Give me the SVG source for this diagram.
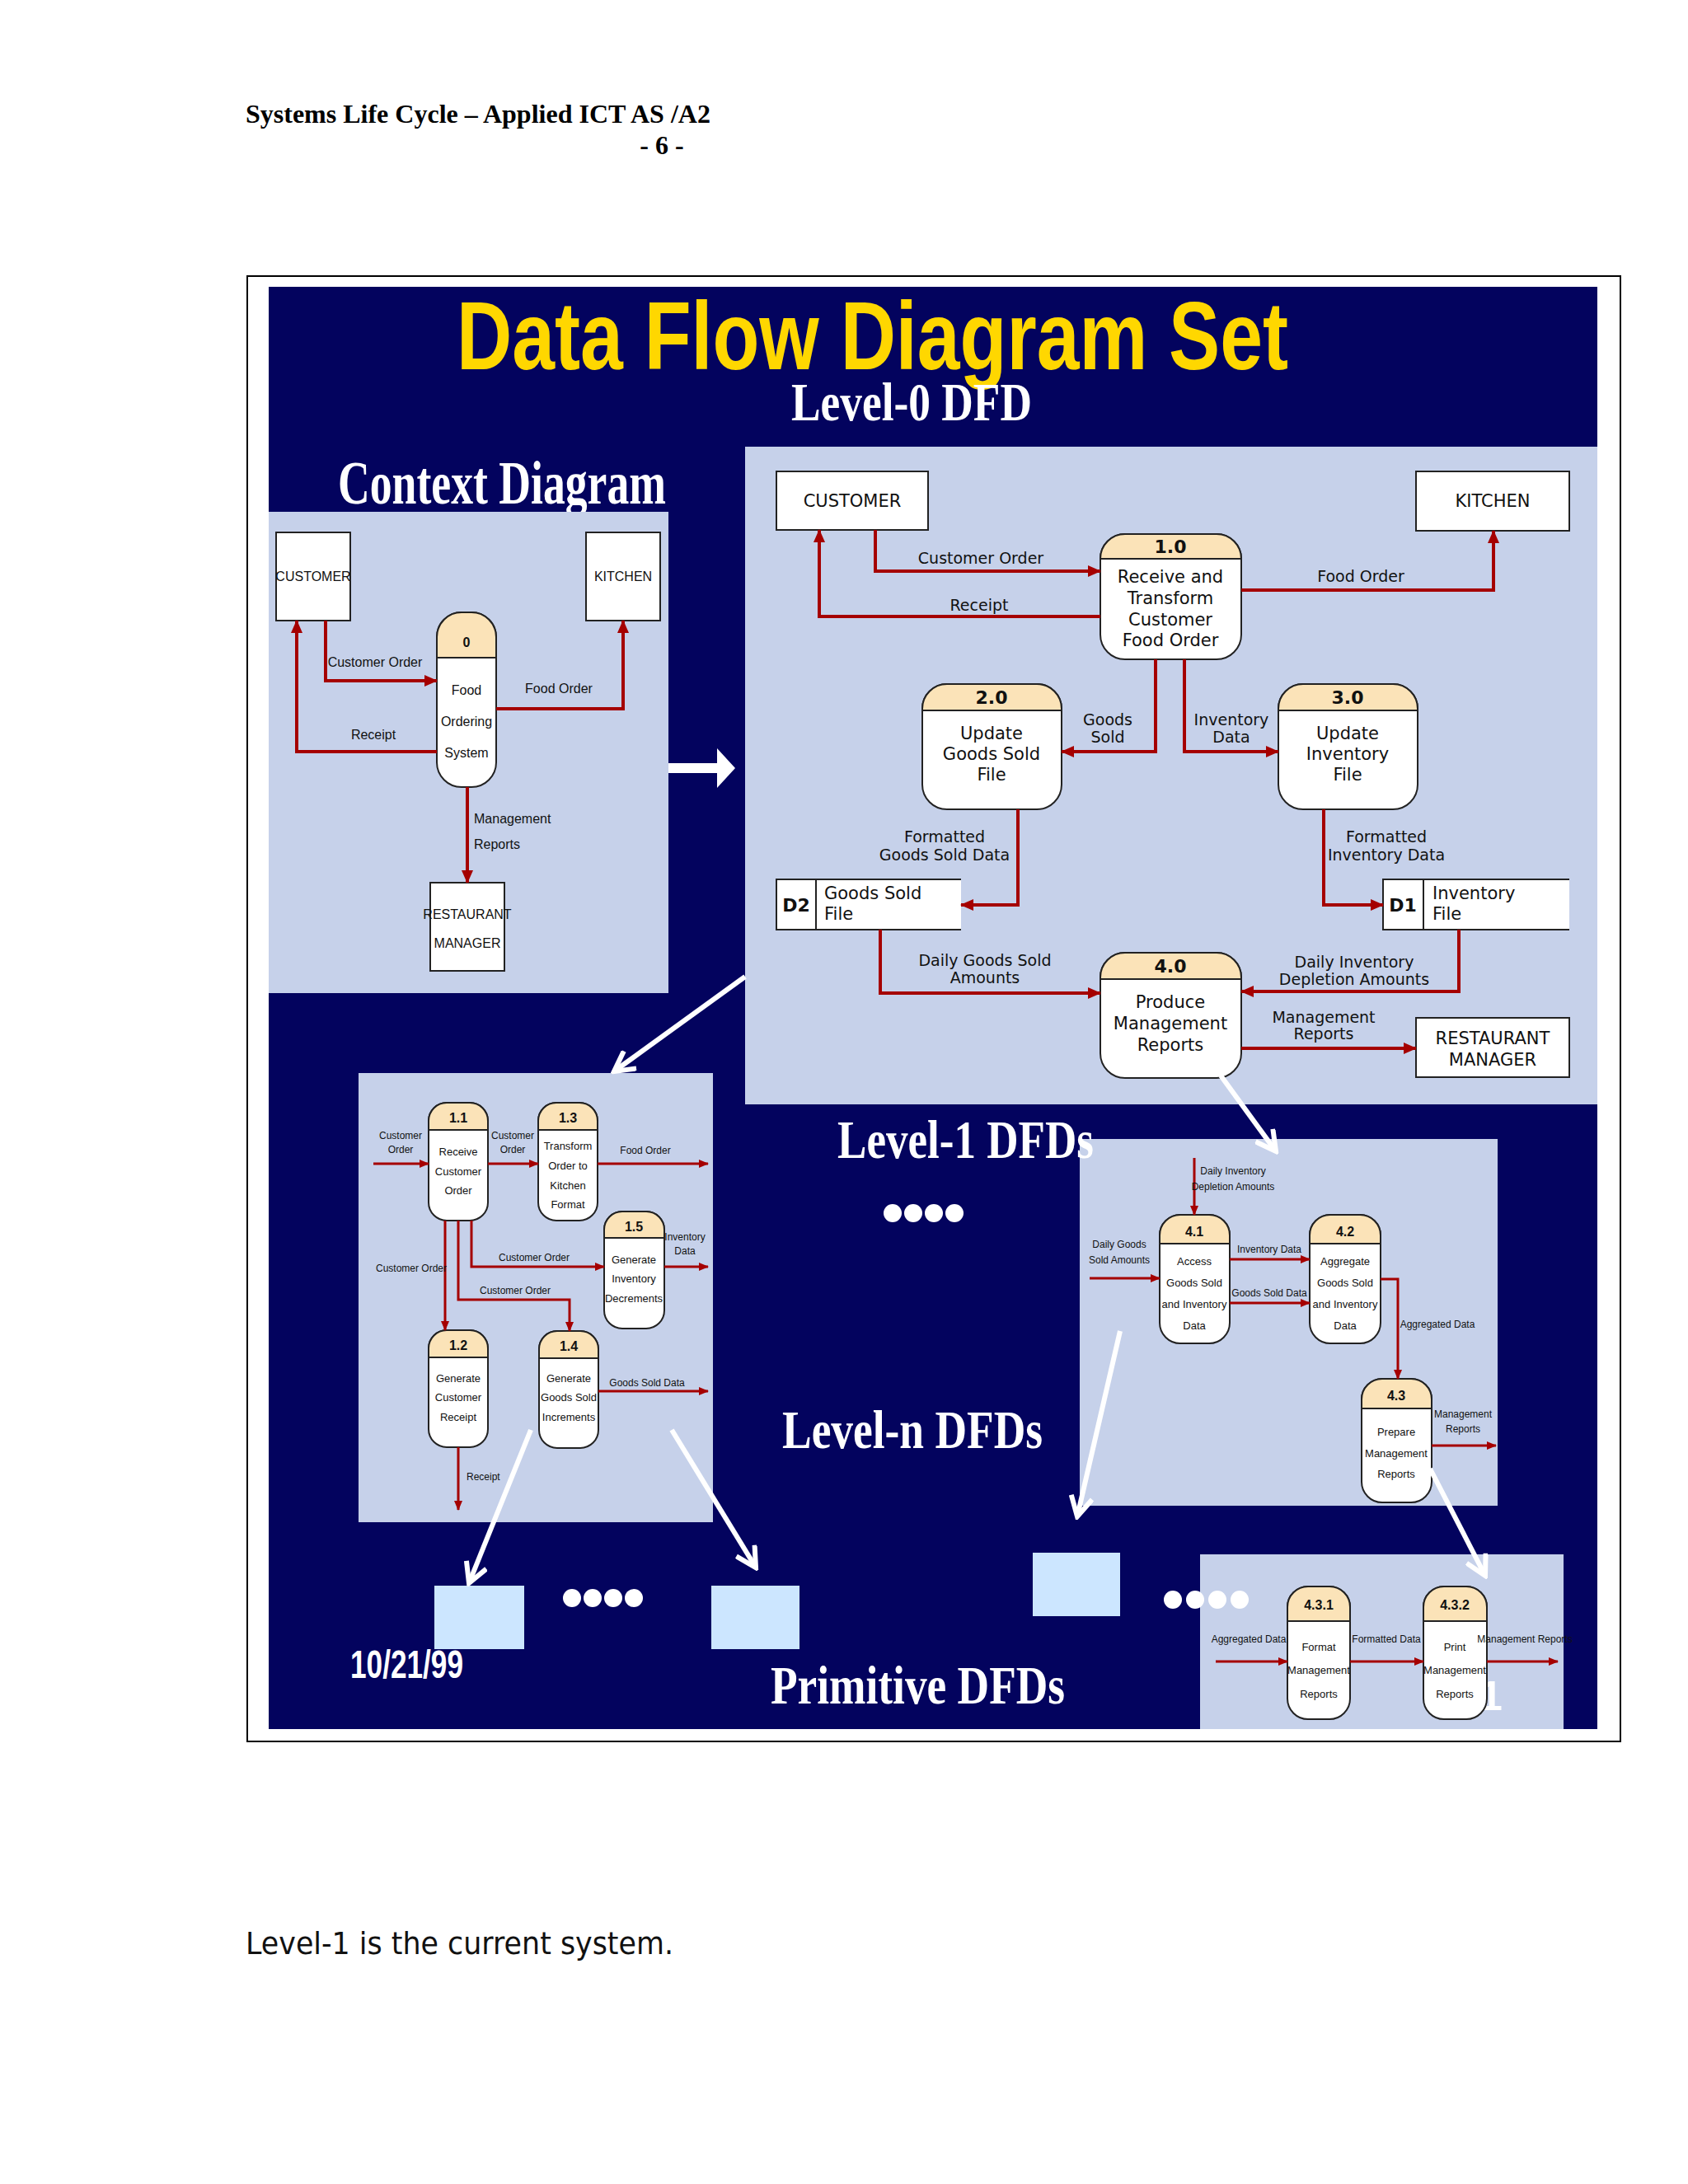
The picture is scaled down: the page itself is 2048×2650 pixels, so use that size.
<svg xmlns="http://www.w3.org/2000/svg" width="2048" height="2650" viewBox="0 0 2048 2650">
<defs>
<marker id="ar" markerWidth="16" markerHeight="14" refX="15" refY="7" orient="auto" markerUnits="userSpaceOnUse"><path d="M0,0 L16,7 L0,14 Z" fill="#a50000"/></marker>
<marker id="as" markerWidth="12" markerHeight="10" refX="11" refY="5" orient="auto" markerUnits="userSpaceOnUse"><path d="M0,0 L12,5 L0,10 Z" fill="#a50000"/></marker>
<marker id="aw" markerWidth="30" markerHeight="30" refX="26" refY="15" orient="auto" markerUnits="userSpaceOnUse"><path d="M2,2 L26,15 L2,28" fill="none" stroke="#fff" stroke-width="6"/></marker>
</defs>
<style>
.hd{font-family:"Liberation Serif",serif;font-weight:bold;fill:#000}
.lv{font-family:"Liberation Serif",serif;font-weight:bold;fill:#fff}
.panel{fill:#c6d1ea}
.pb{fill:#fff;stroke:#222;stroke-width:2}
.ph{fill:#fbe3b8;stroke:#222;stroke-width:2}
.ent{fill:#fff;stroke:#222;stroke-width:2}
.f{fill:none;stroke:#a50000;stroke-width:4;marker-end:url(#ar)}
.fs{fill:none;stroke:#a50000;stroke-width:3;marker-end:url(#as)}
.t0{font-family:"DejaVu Sans",sans-serif;font-size:21px;fill:#111;text-anchor:middle}
.l0{font-family:"DejaVu Sans",sans-serif;font-size:19px;fill:#111;text-anchor:middle}
.t0b{font-family:"DejaVu Sans",sans-serif;font-size:22px;font-weight:bold;fill:#111;text-anchor:middle}
.tn{font-family:"Liberation Sans",sans-serif;font-size:13px;fill:#111;text-anchor:middle}
.ln{font-family:"Liberation Sans",sans-serif;font-size:12px;fill:#111;text-anchor:middle}
.tnb{font-family:"Liberation Sans",sans-serif;font-size:16px;font-weight:bold;fill:#111;text-anchor:middle}
.tc{font-family:"Liberation Sans",sans-serif;font-size:16px;fill:#111;text-anchor:middle}
.st{text-anchor:start}
.wl{stroke:#fff;stroke-width:6;fill:none;marker-end:url(#aw)}
</style>
<rect width="2048" height="2650" fill="#fff"/>
<text class="hd" x="298" y="149" font-size="32">Systems Life Cycle – Applied ICT AS /A2</text>
<text class="hd" x="803" y="187" font-size="32" text-anchor="middle">- 6 -</text>
<rect x="300" y="335" width="1666" height="1778" fill="none" stroke="#000" stroke-width="2"/>
<rect x="326" y="348" width="1612" height="1750" fill="#03035e"/>
<text x="554" y="448" font-family="Liberation Sans,sans-serif" font-weight="bold" font-size="116" fill="#ffd700" textLength="1009" lengthAdjust="spacingAndGlyphs">Data Flow Diagram Set</text>
<text class="lv" x="960" y="510" font-size="66" textLength="292" lengthAdjust="spacingAndGlyphs">Level-0 DFD</text>
<text class="lv" x="410" y="611" font-size="74" textLength="398" lengthAdjust="spacingAndGlyphs">Context Diagram</text>

<rect class="panel" x="904" y="542" width="1034" height="798"/>
<rect class="panel" x="326" y="621" width="485" height="584"/>
<rect class="panel" x="435" y="1302" width="430" height="545"/>
<rect class="panel" x="1310" y="1382" width="507" height="445"/>
<rect class="panel" x="1456" y="1886" width="441" height="212"/>
<rect x="527" y="1924" width="109" height="77" fill="#cce6ff"/>
<rect x="863" y="1924" width="107" height="77" fill="#cce6ff"/>
<rect x="1253" y="1884" width="106" height="77" fill="#cce6ff"/>

<text class="lv" x="1016" y="1405" font-size="66" textLength="311" lengthAdjust="spacingAndGlyphs">Level-1 DFDs</text>
<text class="lv" x="949" y="1757" font-size="66" textLength="316" lengthAdjust="spacingAndGlyphs">Level-n DFDs</text>
<text class="lv" x="935" y="2067" font-size="66" textLength="357" lengthAdjust="spacingAndGlyphs">Primitive DFDs</text>
<text x="425" y="2036" font-family="Liberation Sans,sans-serif" font-weight="bold" font-size="48" fill="#fff" textLength="137" lengthAdjust="spacingAndGlyphs">10/21/99</text>
<text x="1795" y="2075" font-family="Liberation Sans,sans-serif" font-weight="bold" font-size="50" fill="#fff">1</text>
<g fill="#fff">
<circle cx="1083" cy="1472" r="11"/><circle cx="1108" cy="1472" r="11"/><circle cx="1133" cy="1472" r="11"/><circle cx="1158" cy="1472" r="11"/>
<circle cx="694" cy="1939" r="11"/><circle cx="719" cy="1939" r="11"/><circle cx="744" cy="1939" r="11"/><circle cx="769" cy="1939" r="11"/>
<circle cx="1423" cy="1941" r="11"/><circle cx="1450" cy="1941" r="11"/><circle cx="1477" cy="1941" r="11"/><circle cx="1504" cy="1941" r="11"/>
</g>

<!-- Context diagram -->
<g id="ctx-customer"><rect class="ent" x="335" y="646" width="90" height="107"/><text class="tc" x="380" y="705" font-size="15">CUSTOMER</text></g>
<g id="ctx-kitchen"><rect class="ent" x="711" y="646" width="90" height="107"/><text class="tc" x="756" y="705" font-size="15">KITCHEN</text></g>
<g id="ctx-manager"><rect class="ent" x="522" y="1071" width="90" height="107"/><text class="tc" x="567" y="1115" font-size="14">RESTAURANT</text><text class="tc" x="567" y="1150" font-size="15">MANAGER</text></g>
<g id="ctx-p0"><rect class="pb" x="530" y="743" width="72" height="212" rx="30"/><path class="ph" d="M530,798 V773 A30,30 0 0 1 560,743 H572 A30,30 0 0 1 602,773 V798 Z"/>
<text class="tnb" x="566" y="785" font-size="22">0</text><text class="tc" x="566" y="843">Food</text><text class="tc" x="566" y="881">Ordering</text><text class="tc" x="566" y="919">System</text></g>

<!-- Level-0 -->
<g id="l0-customer"><rect class="ent" x="942" y="572" width="184" height="71"/><text class="t0" x="1034" y="615">CUSTOMER</text></g>
<g id="l0-kitchen"><rect class="ent" x="1718" y="572" width="186" height="72"/><text class="t0" x="1811" y="615">KITCHEN</text></g>
<g id="l0-manager"><rect class="ent" x="1718" y="1235" width="186" height="72"/><text class="t0" x="1811" y="1267">RESTAURANT</text><text class="t0" x="1811" y="1293">MANAGER</text></g>
<g id="l0-p1"><rect class="pb" x="1335" y="648" width="171" height="152" rx="30"/><path class="ph" d="M1335,678 A30,30 0 0 1 1365,648 H1476 A30,30 0 0 1 1506,678 Z"/>
<text class="t0b" x="1420" y="671">1.0</text><text class="t0" x="1420" y="707">Receive and</text><text class="t0" x="1420" y="733">Transform</text><text class="t0" x="1420" y="759">Customer</text><text class="t0" x="1420" y="784">Food Order</text></g>
<g id="l0-p2"><rect class="pb" x="1119" y="830" width="169" height="152" rx="30"/><path class="ph" d="M1119,862 V860 A30,30 0 0 1 1149,830 H1258 A30,30 0 0 1 1288,860 V862 Z"/>
<text class="t0b" x="1203" y="854">2.0</text><text class="t0" x="1203" y="897">Update</text><text class="t0" x="1203" y="922">Goods Sold</text><text class="t0" x="1203" y="947">File</text></g>
<g id="l0-p3"><rect class="pb" x="1551" y="830" width="169" height="152" rx="30"/><path class="ph" d="M1551,862 V860 A30,30 0 0 1 1581,830 H1690 A30,30 0 0 1 1720,860 V862 Z"/>
<text class="t0b" x="1635" y="854">3.0</text><text class="t0" x="1635" y="897">Update</text><text class="t0" x="1635" y="922">Inventory</text><text class="t0" x="1635" y="947">File</text></g>
<g id="l0-p4"><rect class="pb" x="1335" y="1156" width="171" height="152" rx="30"/><path class="ph" d="M1335,1188 V1186 A30,30 0 0 1 1365,1156 H1476 A30,30 0 0 1 1506,1186 V1188 Z"/>
<text class="t0b" x="1420" y="1180">4.0</text><text class="t0" x="1420" y="1223">Produce</text><text class="t0" x="1420" y="1249">Management</text><text class="t0" x="1420" y="1275">Reports</text></g>
<g id="l0-d2"><path d="M1166,1067 H942 V1128 H1166 M990,1067 V1128" fill="#fff" stroke="#222" stroke-width="2"/><text class="t0b" x="966" y="1106">D2</text><text class="t0 st" x="1000" y="1091">Goods Sold</text><text class="t0 st" x="1000" y="1116">File</text></g>
<g id="l0-d1"><path d="M1904,1067 H1678 V1128 H1904 M1727,1067 V1128" fill="#fff" stroke="#222" stroke-width="2"/><text class="t0b" x="1702" y="1106">D1</text><text class="t0 st" x="1738" y="1091">Inventory</text><text class="t0 st" x="1738" y="1116">File</text></g>

<!-- Level-1 -->
<g id="l1-p11"><rect class="pb" x="520" y="1338" width="72" height="143" rx="22"/><path class="ph" d="M520,1371 V1360 A22,22 0 0 1 542,1338 H570 A22,22 0 0 1 592,1360 V1371 Z"/><text class="tnb" x="556" y="1362">1.1</text><text class="tn" x="556" y="1402">Receive</text><text class="tn" x="556" y="1426">Customer</text><text class="tn" x="556" y="1449">Order</text></g>
<g id="l1-p13"><rect class="pb" x="653" y="1338" width="72" height="143" rx="22"/><path class="ph" d="M653,1371 V1360 A22,22 0 0 1 675,1338 H703 A22,22 0 0 1 725,1360 V1371 Z"/><text class="tnb" x="689" y="1362">1.3</text><text class="tn" x="689" y="1395">Transform</text><text class="tn" x="689" y="1419">Order to</text><text class="tn" x="689" y="1443">Kitchen</text><text class="tn" x="689" y="1466">Format</text></g>
<g id="l1-p15"><rect class="pb" x="733" y="1470" width="73" height="142" rx="22"/><path class="ph" d="M733,1502 V1492 A22,22 0 0 1 755,1470 H784 A22,22 0 0 1 806,1492 V1502 Z"/><text class="tnb" x="769" y="1494">1.5</text><text class="tn" x="769" y="1533">Generate</text><text class="tn" x="769" y="1556">Inventory</text><text class="tn" x="769" y="1580" font-size="12">Decrements</text></g>
<g id="l1-p12"><rect class="pb" x="520" y="1614" width="72" height="142" rx="22"/><path class="ph" d="M520,1647 V1636 A22,22 0 0 1 542,1614 H570 A22,22 0 0 1 592,1636 V1647 Z"/><text class="tnb" x="556" y="1638">1.2</text><text class="tn" x="556" y="1677">Generate</text><text class="tn" x="556" y="1700">Customer</text><text class="tn" x="556" y="1724">Receipt</text></g>
<g id="l1-p14"><rect class="pb" x="654" y="1615" width="72" height="142" rx="22"/><path class="ph" d="M654,1648 V1637 A22,22 0 0 1 676,1615 H704 A22,22 0 0 1 726,1637 V1648 Z"/><text class="tnb" x="690" y="1639">1.4</text><text class="tn" x="690" y="1677">Generate</text><text class="tn" x="690" y="1700" font-size="12">Goods Sold</text><text class="tn" x="690" y="1724" font-size="12">Increments</text></g>

<!-- Level-n -->
<g id="ln-p41"><rect class="pb" x="1407" y="1474" width="85" height="156" rx="25"/><path class="ph" d="M1407,1509 V1499 A25,25 0 0 1 1432,1474 H1467 A25,25 0 0 1 1492,1499 V1509 Z"/><text class="tnb" x="1449" y="1500">4.1</text><text class="tn" x="1449" y="1535">Access</text><text class="tn" x="1449" y="1561">Goods Sold</text><text class="tn" x="1449" y="1587">and Inventory</text><text class="tn" x="1449" y="1613">Data</text></g>
<g id="ln-p42"><rect class="pb" x="1589" y="1474" width="86" height="156" rx="25"/><path class="ph" d="M1589,1509 V1499 A25,25 0 0 1 1614,1474 H1650 A25,25 0 0 1 1675,1499 V1509 Z"/><text class="tnb" x="1632" y="1500">4.2</text><text class="tn" x="1632" y="1535">Aggregate</text><text class="tn" x="1632" y="1561">Goods Sold</text><text class="tn" x="1632" y="1587">and Inventory</text><text class="tn" x="1632" y="1613">Data</text></g>
<g id="ln-p43"><rect class="pb" x="1652" y="1673" width="85" height="150" rx="25"/><path class="ph" d="M1652,1709 V1698 A25,25 0 0 1 1677,1673 H1712 A25,25 0 0 1 1737,1698 V1709 Z"/><text class="tnb" x="1694" y="1699">4.3</text><text class="tn" x="1694" y="1742">Prepare</text><text class="tn" x="1694" y="1768">Management</text><text class="tn" x="1694" y="1793">Reports</text></g>

<!-- Primitive -->
<g id="pr-p431"><rect class="pb" x="1562" y="1925" width="76" height="161" rx="25"/><path class="ph" d="M1562,1967 V1950 A25,25 0 0 1 1587,1925 H1613 A25,25 0 0 1 1638,1950 V1967 Z"/><text class="tnb" x="1600" y="1953">4.3.1</text><text class="tn" x="1600" y="2003">Format</text><text class="tn" x="1600" y="2031" font-size="12">Management</text><text class="tn" x="1600" y="2060">Reports</text></g>
<g id="pr-p432"><rect class="pb" x="1727" y="1925" width="77" height="161" rx="25"/><path class="ph" d="M1727,1967 V1950 A25,25 0 0 1 1752,1925 H1779 A25,25 0 0 1 1804,1950 V1967 Z"/><text class="tnb" x="1765" y="1953">4.3.2</text><text class="tn" x="1765" y="2003">Print</text><text class="tn" x="1765" y="2031" font-size="12">Management</text><text class="tn" x="1765" y="2060">Reports</text></g>

<g id="connectors">
<path class="f" d="M395,753 V826 H530"/>
<path class="f" d="M530,912 H360 V753"/>
<path class="f" d="M602,860 H756 V753"/>
<path class="f" d="M567,955 V1071"/>
<path class="f" d="M1062,643 V693 H1335"/>
<path class="f" d="M1335,748 H994 V643"/>
<path class="f" d="M1506,716 H1812 V644"/>
<path class="f" d="M1402,800 V912 H1288"/>
<path class="f" d="M1437,800 V912 H1551"/>
<path class="f" d="M1235,982 V1098 H1166"/>
<path class="f" d="M1606,982 V1098 H1678"/>
<path class="f" d="M1068,1128 V1205 H1335"/>
<path class="f" d="M1770,1128 V1203 H1506"/>
<path class="f" d="M1506,1272 H1718"/>
<path class="fs" d="M453,1412 H520"/>
<path class="fs" d="M592,1412 H653"/>
<path class="fs" d="M725,1412 H859"/>
<path class="fs" d="M540,1481 V1614"/>
<path class="fs" d="M556,1481 V1577 H691 V1615"/>
<path class="fs" d="M572,1481 V1537 H733"/>
<path class="fs" d="M806,1537 H859"/>
<path class="fs" d="M726,1688 H859"/>
<path class="fs" d="M556,1756 V1832"/>
<path class="fs" d="M1449,1405 V1474"/>
<path class="fs" d="M1322,1551 H1407"/>
<path class="fs" d="M1492,1528 H1589"/>
<path class="fs" d="M1492,1581 H1589"/>
<path class="fs" d="M1675,1552 H1696 V1673"/>
<path class="fs" d="M1737,1754 H1815"/>
<path class="fs" d="M1475,2016 H1562"/>
<path class="fs" d="M1638,2016 H1727"/>
<path class="fs" d="M1804,2016 H1890"/>
<path d="M811,926 H870 V908 L892,932 L870,956 V938 H811 Z" fill="#fff"/>
<path class="wl" d="M904,1185 L745,1300"/>
<path class="wl" d="M1481,1305 L1548,1397"/>
<path class="wl" d="M644,1735 L569,1921"/>
<path class="wl" d="M815,1735 L917,1902"/>
<path class="wl" d="M1359,1615 L1307,1840"/>
<path class="wl" d="M1735,1782 L1802,1912"/>
</g>

<g id="labels">
<text class="tc" x="455" y="809" font-size="15">Customer Order</text>
<text class="tc" x="453" y="897" font-size="15">Receipt</text>
<text class="tc" x="678" y="841" font-size="15">Food Order</text>
<text class="tc st" x="575" y="999" font-size="15">Management</text>
<text class="tc st" x="575" y="1030" font-size="15">Reports</text>

<text class="l0" x="1190" y="684">Customer Order</text>
<text class="l0" x="1188" y="741">Receipt</text>
<text class="l0" x="1651" y="706">Food Order</text>
<text class="l0" x="1344" y="880">Goods</text><text class="l0" x="1344" y="901">Sold</text>
<text class="l0" x="1494" y="880">Inventory</text><text class="l0" x="1494" y="901">Data</text>
<text class="l0" x="1146" y="1022">Formatted</text><text class="l0" x="1146" y="1044">Goods Sold Data</text>
<text class="l0" x="1682" y="1022">Formatted</text><text class="l0" x="1682" y="1044">Inventory Data</text>
<text class="l0" x="1195" y="1172">Daily Goods Sold</text><text class="l0" x="1195" y="1193">Amounts</text>
<text class="l0" x="1643" y="1174">Daily Inventory</text><text class="l0" x="1643" y="1195">Depletion Amounts</text>
<text class="l0" x="1606" y="1241">Management</text><text class="l0" x="1606" y="1261">Reports</text>

<text class="ln" x="486" y="1382">Customer</text><text class="ln" x="486" y="1399">Order</text>
<text class="ln" x="622" y="1382">Customer</text><text class="ln" x="622" y="1399">Order</text>
<text class="ln" x="783" y="1400">Food Order</text>
<text class="ln" x="499" y="1543">Customer Order</text>
<text class="ln" x="625" y="1570">Customer Order</text>
<text class="ln" x="648" y="1530">Customer Order</text>
<text class="ln" x="831" y="1505">Inventory</text><text class="ln" x="831" y="1522">Data</text>
<text class="ln" x="785" y="1682">Goods Sold Data</text>
<text class="ln st" x="566" y="1796">Receipt</text>

<text class="ln" x="1496" y="1425">Daily Inventory</text><text class="ln" x="1496" y="1444">Depletion Amounts</text>
<text class="ln" x="1358" y="1514">Daily Goods</text><text class="ln" x="1358" y="1533">Sold Amounts</text>
<text class="ln" x="1540" y="1520">Inventory Data</text>
<text class="ln" x="1540" y="1573">Goods Sold Data</text>
<text class="ln" x="1744" y="1611">Aggregated Data</text>
<text class="ln" x="1775" y="1720">Management</text><text class="ln" x="1775" y="1738">Reports</text>

<text class="ln" x="1515" y="1993">Aggregated Data</text>
<text class="ln" x="1682" y="1993">Formatted Data</text>
<text class="ln" x="1850" y="1993">Management Reports</text>
</g>

<text x="298" y="2371" font-family="DejaVu Sans,sans-serif" font-size="38" fill="#111" textLength="519" lengthAdjust="spacingAndGlyphs">Level-1 is the current system.</text>
</svg>
